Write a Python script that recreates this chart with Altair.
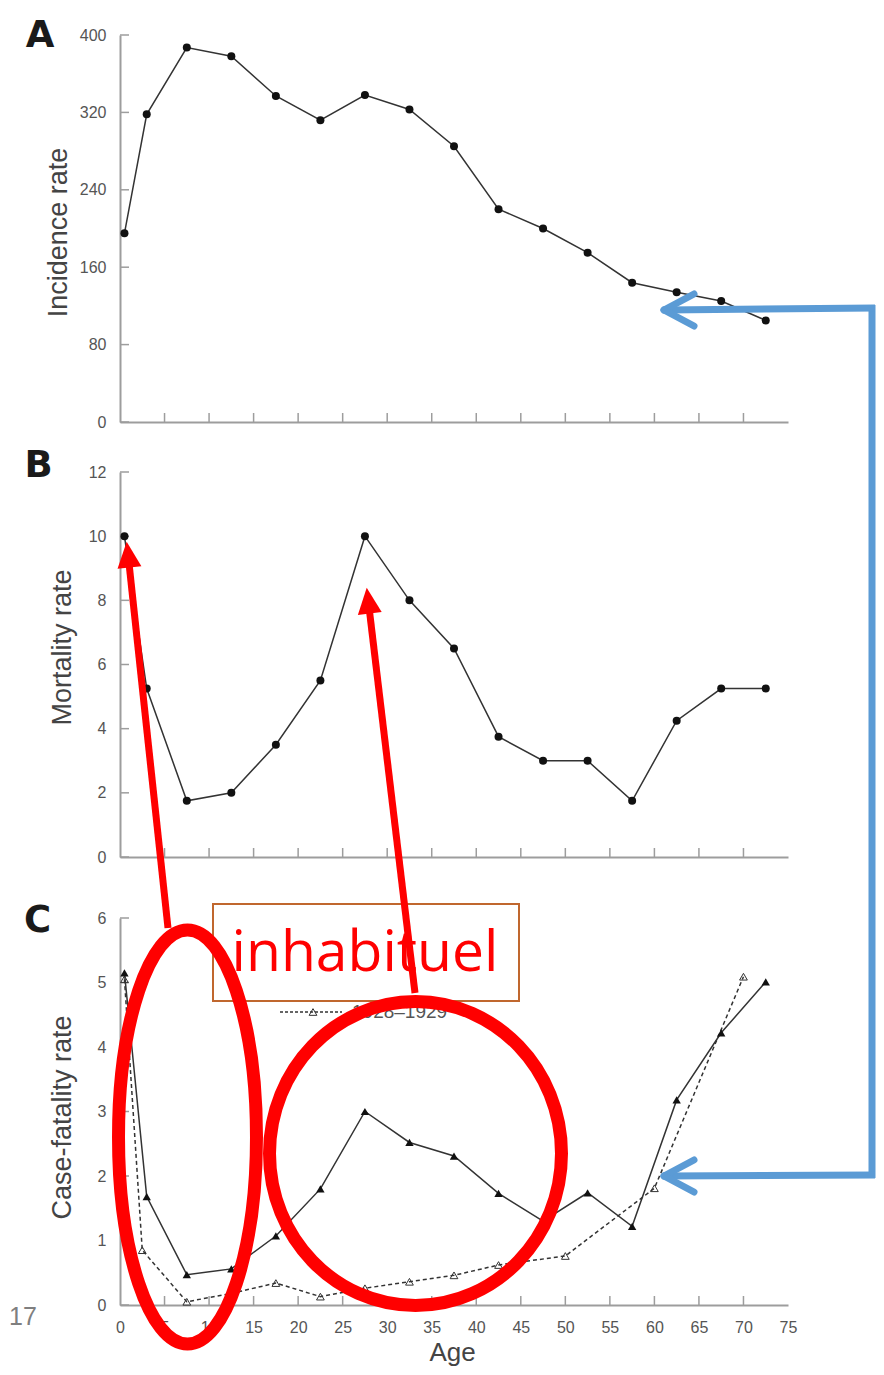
import math
import altair as alt
import pandas as pd

# ---------------- data ----------------
ages = [0.5, 3, 7.5, 12.5, 17.5, 22.5, 27.5, 32.5, 37.5, 42.5, 47.5, 52.5, 57.5, 62.5, 67.5, 72.5]
incidence = [195, 318, 387, 378, 337, 312, 338, 323, 285, 220, 200, 175, 144, 134, 125, 105]
mortality = [10, 5.25, 1.75, 2.0, 3.5, 5.5, 10, 8, 6.5, 3.75, 3, 3, 1.75, 4.25, 5.25, 5.25]
cfr_1918 = [5.15, 1.68, 0.47, 0.56, 1.07, 1.8, 3.0, 2.52, 2.31, 1.73, 1.3, 1.74, 1.22, 3.18, 4.22, 5.01]
ages_1928 = [0.5, 2.5, 7.5, 12.5, 17.5, 22.5, 27.5, 32.5, 37.5, 42.5, 50, 60, 70]
cfr_1928 = [5.05, 0.85, 0.05, 0.18, 0.34, 0.13, 0.26, 0.36, 0.46, 0.62, 0.76, 1.81, 5.09]

age_ticks = [5, 10, 15, 20, 25, 30, 35, 40, 45, 50, 55, 60, 65, 70]
age_labels = [0, 5, 10, 15, 20, 25, 30, 35, 40, 45, 50, 55, 60, 65, 70, 75]
inc_ticks = [0, 80, 160, 240, 320, 400]
mort_ticks = [0, 2, 4, 6, 8, 10, 12]
cfr_ticks = [0, 1, 2, 3, 4, 5, 6]
legend_label = "1928\u20131929"
panel_letters = ["A", "B", "C"]
y_titles = ["Incidence rate", "Mortality rate", "Case-fatality rate"]
x_title = "Age"
note_text = "inhabituel"
page_number = "17"

# ---------------- layout (page pixels; chart origin is at page 8,8) ----------------
P = 8
W, H = 868, 1359
X_RANGE = [120 - P, 788 - P]
AXIS_Y = {"A": 422 - P, "B": 857 - P, "C": 1305 - P}
RANGE_A = [422 - P, 35 - P]
RANGE_B = [857 - P, 472 - P]
RANGE_C = [1305 - P, 918 - P]
TICK = 9

AX = "#9d9d9d"
LINE = "#333333"
DOT = "#111111"
RED = "#FF0000"
BLUE = "#5B9BD5"
BOX = "#C0672E"
FONT = "Liberation Sans"

common = dict(
    domainColor=AX, domainWidth=2, ticks=False, labelColor="#555555", labelFont=FONT,
    labelFontSize=16, labelFlush=False, labelOverlap=False, grid=False,
    titleFont=FONT, titleFontSize=27, titleColor="#444444", titleFontWeight="normal",
)


def x_axis(panel, values, labels, title=""):
    kw = dict(common)
    kw.update(values=values, orient="bottom", offset=AXIS_Y[panel] - H,
              labels=labels, title=title, labelPadding=14)
    if title:
        kw.update(titleX=452 - P, titleY=1360 - 1305, titleAlign="center",
                  titleBaseline="alphabetic", titleAngle=0, titleFontSize=26)
    return alt.Axis(**kw)


def y_axis(values, title, title_x_page, title_y_page):
    kw = dict(common)
    kw.update(values=values, orient="left", offset=-X_RANGE[0], title=title,
              labelPadding=14, titleX=title_x_page - 120, titleY=title_y_page - P,
              titleAngle=270, titleAlign="center", titleBaseline="alphabetic")
    return alt.Axis(**kw)


def panel(series, y_dom, y_rng, y_ticks, yax, xax, axis_y):
    xs = alt.Scale(domain=[0, 75], range=X_RANGE, nice=False, zero=False)
    ys = alt.Scale(domain=y_dom, range=y_rng, nice=False, zero=False)
    X = alt.X("age:Q", scale=xs, axis=xax)
    Y = alt.Y("rate:Q", scale=ys, axis=yax)
    layers = []
    # inward tick marks
    layers.append(alt.Chart(pd.DataFrame({"rate": y_ticks})).mark_rule(color=AX, strokeWidth=1.5).encode(
        y=Y, x=alt.value(X_RANGE[0]), x2=alt.value(X_RANGE[0] + TICK)))
    layers.append(alt.Chart(pd.DataFrame({"age": age_ticks})).mark_rule(color=AX, strokeWidth=1.5).encode(
        x=X, y=alt.value(axis_y), y2=alt.value(axis_y - TICK)))
    for df, line_kw, pt_kw in series:
        layers.append(alt.Chart(df).mark_line(**line_kw).encode(x=X, y=Y))
        layers.append(alt.Chart(df).mark_point(**pt_kw).encode(x=X, y=Y))
    return alt.layer(*layers)


dot_kw = dict(filled=True, shape="circle", size=64, color=DOT, opacity=1)
solid_kw = dict(color=LINE, strokeWidth=1.5)

panelA = panel(
    [(pd.DataFrame({"age": ages, "rate": incidence}), solid_kw, dot_kw)],
    [0, 400], RANGE_A, inc_ticks,
    y_axis(inc_ticks, y_titles[0], 66, 232), x_axis("A", age_ticks, False), AXIS_Y["A"])

panelB = panel(
    [(pd.DataFrame({"age": ages, "rate": mortality}), solid_kw, dot_kw)],
    [0, 12], RANGE_B, mort_ticks,
    y_axis(mort_ticks, y_titles[1], 70, 647), x_axis("B", age_ticks, False), AXIS_Y["B"])

panelC = panel(
    [
        (pd.DataFrame({"age": ages_1928, "rate": cfr_1928}),
         dict(color=LINE, strokeWidth=1.5, strokeDash=[4, 3]),
         dict(filled=False, shape="triangle-up", size=60, color=LINE, strokeWidth=1, opacity=1)),
        (pd.DataFrame({"age": ages, "rate": cfr_1918}), solid_kw,
         dict(filled=True, shape="triangle-up", size=70, color=DOT, opacity=1)),
    ],
    [0, 6], RANGE_C, cfr_ticks,
    y_axis(cfr_ticks, y_titles[2], 70, 1117), x_axis("C", age_labels, True, x_title), AXIS_Y["C"])

# ---------------- annotations ----------------
one = pd.DataFrame({"k": [0]})


def seg(x1, y1, x2, y2, color, width, cap="butt", dash=None):
    kw = dict(color=color, strokeWidth=width, strokeCap=cap)
    if dash:
        kw["strokeDash"] = dash
    return alt.Chart(one).mark_rule(**kw).encode(
        x=alt.value(x1 - P), y=alt.value(y1 - P), x2=alt.value(x2 - P), y2=alt.value(y2 - P))


def text(x, y, s, size, color, font=FONT, align="left", baseline="alphabetic", weight="normal"):
    return alt.Chart(one).mark_text(text=s, font=font, fontSize=size, color=color, align=align,
                                    baseline=baseline, fontWeight=weight).encode(
        x=alt.value(x - P), y=alt.value(y - P))


def sym(x, y, shape, size, color, filled=True, sw=1, angle=0):
    return alt.Chart(one).mark_point(shape=shape, size=size, color=color, filled=filled,
                                     strokeWidth=sw, opacity=1, angle=angle).encode(
        x=alt.value(x - P), y=alt.value(y - P))


def ellipse(cx, cy, rx, ry, width):
    a = rx / ry
    k = 0.5523
    path = (f"M {a:.4f} 0 C {a:.4f} {k} {k*a:.4f} 1 0 1 "
            f"C {-k*a:.4f} 1 {-a:.4f} {k} {-a:.4f} 0 "
            f"C {-a:.4f} {-k} {-k*a:.4f} -1 0 -1 "
            f"C {k*a:.4f} -1 {a:.4f} {-k} {a:.4f} 0 Z")
    return sym(cx, cy, path, 4 * ry * ry, RED, filled=False, sw=width)


def arrow(tx, ty, hx, hy, color, width, head_len=26.0, head_w=24.0):
    dx, dy = hx - tx, hy - ty
    L = math.hypot(dx, dy)
    ux, uy = dx / L, dy / L
    cx, cy = hx - ux * head_len / 2, hy - uy * head_len / 2
    ang = math.degrees(math.atan2(ux, -uy)) % 360
    hw = head_w / head_len
    path = f"M 0 -1 L {-hw:.4f} 1 L {hw:.4f} 1 Z"
    return [seg(tx, ty, cx, cy, color, width),
            sym(cx, cy, path, head_len ** 2, color, filled=True, sw=0, angle=ang)]


ann = []
# panel letters
ann.append(text(40, 47, panel_letters[0], 37, "#1a1a1a", font="DejaVu Sans", align="center", weight="bold"))
ann.append(text(38.5, 477, panel_letters[1], 37, "#1a1a1a", font="DejaVu Sans", align="center", weight="bold"))
ann.append(text(37.5, 932, panel_letters[2], 37, "#1a1a1a", font="DejaVu Sans", align="center", weight="bold"))

# legend of panel C (the solid-line entry is hidden under the note box in the reference)
ann.append(seg(280, 1012, 342, 1012, LINE, 1.5, dash=[3, 2]))
ann.append(sym(313, 1012, "triangle-up", 60, LINE, filled=False))
ann.append(text(352, 1012, legend_label, 19, "#555555", baseline="middle"))

# page number
ann.append(text(9, 1325, page_number, 25, "#7f7f7f"))

# note box
ann.append(alt.Chart(one).mark_rect(fill="white", stroke=BOX, strokeWidth=2).encode(
    x=alt.value(213 - P), x2=alt.value(519 - P), y=alt.value(904 - P), y2=alt.value(1001 - P)))
ann.append(text(365, 971, note_text, 57, RED, font="Open Sans", align="center"))

# red ellipses
ann.append(ellipse(187.5, 1137, 69, 207, 13))
ann.append(ellipse(415.5, 1153.5, 146, 152, 13))

# red arrows
ann += arrow(168, 928, 126.7, 541.7, RED, 7)
ann += arrow(415, 993, 366.7, 587.7, RED, 7)

# blue bracket arrows
BX = 872
ann.append(seg(BX, 305, BX, 1178, BLUE, 7))
ann.append(seg(BX + 3, 308, 666, 310, BLUE, 7))
ann.append(seg(664, 310, 694, 294, BLUE, 7, cap="round"))
ann.append(seg(664, 310, 694, 326, BLUE, 7, cap="round"))
ann.append(seg(BX + 3, 1175, 666, 1176, BLUE, 7))
ann.append(seg(664, 1176, 694, 1160, BLUE, 7, cap="round"))
ann.append(seg(664, 1176, 694, 1192, BLUE, 7, cap="round"))

chart = (
    alt.layer(panelA, panelB, panelC, *ann)
    .resolve_scale(x="independent", y="independent")
    .resolve_axis(x="independent", y="independent")
    .properties(width=W, height=H, padding=0, autosize=alt.AutoSizeParams(type="none"))
    .configure_view(strokeWidth=0)
)

chart.save("out.html", embed_options={"renderer": "svg", "actions": False})
